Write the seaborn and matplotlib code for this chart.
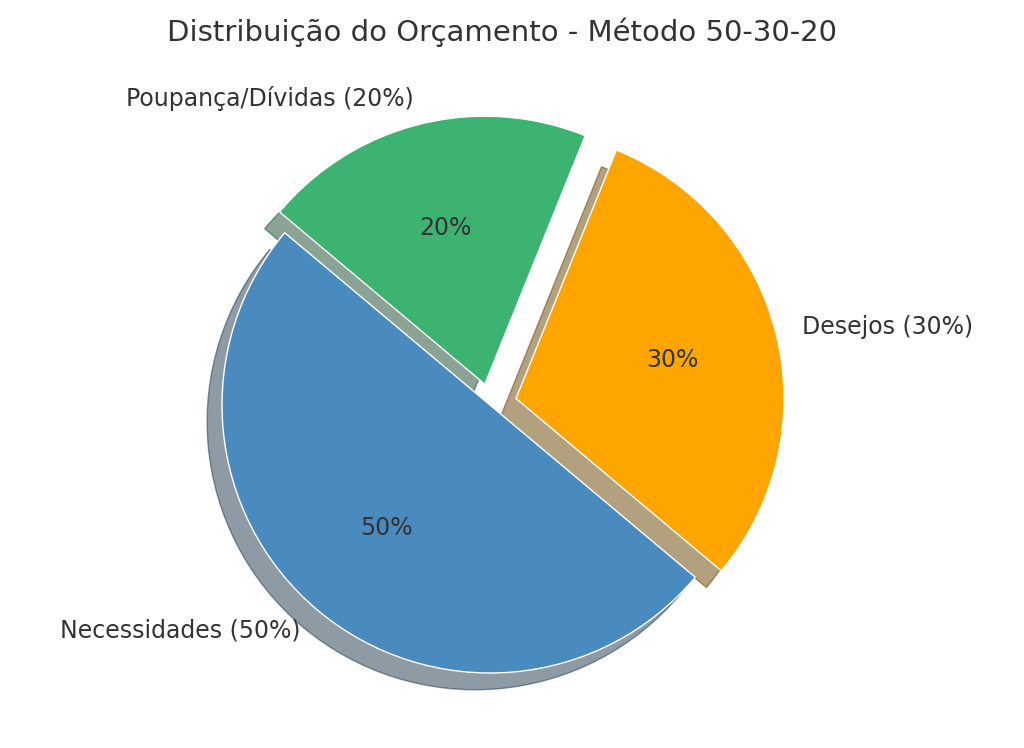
import matplotlib
matplotlib.use("Agg")
import matplotlib.pyplot as plt
import seaborn as sns

sns.set_theme(style="white")
plt.rcParams["text.color"] = "#333333"

categories = ["Necessidades (50%)", "Desejos (30%)", "Poupança/Dívidas (20%)"]
values = [50, 30, 20]
colors = ["#4A8BBF", "#FFA500", "#3CB371"]
explode = [0, 0.1, 0.08]

fig = plt.figure(figsize=(10.24, 7.48), dpi=100)
ax = fig.add_axes([0, 0, 1, 1])
ax.pie(values, labels=categories, colors=colors, explode=explode,
       autopct="%1.0f%%", startangle=140,
       shadow={"ox": -0.04, "oy": -0.045, "shade": 0.6},
       textprops={"fontsize": 17, "color": "#333333"})
# place the pie: center ~ (490, 405) px, radius ~ 268 px
r = 268.0
ax.set_xlim(-490 / r, (1024 - 490) / r)
ax.set_ylim(-(748 - 405) / r, 405 / r)
ax.set_aspect("auto")
ax.axis("off")
fig.text(0.49, 1 - 32 / 748, "Distribuição do Orçamento - Método 50-30-20",
         fontsize=21, color="#333333", ha="center", va="center")
plt.savefig("out.png", dpi=100)
